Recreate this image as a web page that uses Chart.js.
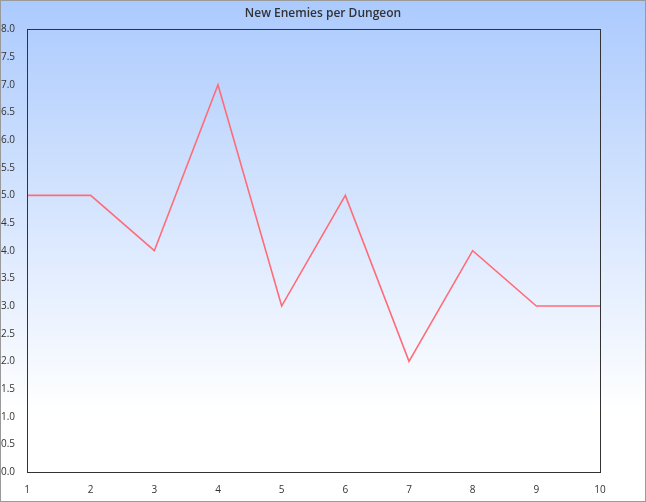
<!DOCTYPE html>
<html>
<head>
<meta charset="utf-8">
<script src="https://cdn.jsdelivr.net/npm/chart.js@4"></script>
<style>
  html, body { margin: 0; padding: 0; background: #fff; }
  #wrap { width: 646px; height: 502px; }
</style>
</head>
<body>
<div id="wrap"><canvas id="graph_canvas" width="646" height="502"></canvas></div>
<script>
const dungeons = ['1', '2', '3', '4', '5', '6', '7', '8', '9', '10'];
const newEnemies = [5, 5, 4, 7, 3, 5, 2, 4, 3, 3];

const ctx = document.getElementById('graph_canvas');

// gradient background + outer border + frame round the plot area
const frame = {
  id: 'frame',
  beforeDraw(chart) {
    const c = chart.ctx;
    const g = c.createLinearGradient(0, 0, 0, chart.height);
    g.addColorStop(0, '#abcafd');
    g.addColorStop(0.82, '#ffffff');
    g.addColorStop(1, '#ffffff');
    c.save();
    c.fillStyle = g;
    c.fillRect(0, 0, chart.width, chart.height);
    c.restore();
  },
  afterDraw(chart) {
    const c = chart.ctx;
    const a = chart.chartArea;
    c.save();
    c.strokeStyle = '#333';
    c.lineWidth = 1;
    c.strokeRect(Math.round(a.left) + 0.5, Math.round(a.top) + 0.5,
      Math.round(a.right - a.left), Math.round(a.bottom - a.top));
    c.strokeStyle = '#9a9a9a';
    c.strokeRect(0.5, 0.5, chart.width - 1, chart.height - 1);
    c.restore();
  }
};

const config = {
  type: 'line',
  data: {
    labels: dungeons,
    datasets: [{
      label: 'New Enemies',
      data: newEnemies,
      borderColor: 'rgb(255, 108, 120)',
      borderWidth: 1.6,
      tension: 0,
      pointRadius: 0,
      fill: false
    }]
  },
  options: {
    responsive: false,
    animation: false,
    layout: { padding: { left: 1, right: 1, top: 0, bottom: 6 } },
    plugins: {
      legend: { display: false },
      tooltip: { enabled: false },
      title: {
        display: true,
        text: 'New Enemies per Dungeon',
        color: '#333',
        font: { family: '"Open Sans", sans-serif', size: 12, weight: '600' },
        padding: { top: 6, bottom: 9 }
      }
    },
    scales: {
      x: {
        offset: false,
        grid: { display: false },
        border: { display: true, color: '#444' },
        ticks: {
          color: '#333',
          font: { family: '"Open Sans", sans-serif', size: 10 },
          maxRotation: 0,
          autoSkip: false,
          padding: 4
        },
        afterFit(s) { s.height = 24; }
      },
      y: {
        min: 0,
        max: 8,
        grid: { display: false },
        border: { display: true, color: '#444' },
        ticks: {
          stepSize: 0.5,
          color: '#333',
          font: { family: '"Open Sans", sans-serif', size: 10 },
          padding: 4,
          callback: function(value) { return value.toFixed(1); }
        },
        afterFit(s) { s.width = 26; }
      },
      // empty space on the right, keeps the title centred on the canvas
      yr: {
        position: 'right',
        min: 0,
        max: 8,
        grid: { display: false },
        border: { display: false },
        ticks: { display: false },
        afterFit(s) { s.width = 45; }
      }
    }
  },
  plugins: [frame]
};

var myChart = new Chart(ctx, config);
</script>
</body>
</html>
